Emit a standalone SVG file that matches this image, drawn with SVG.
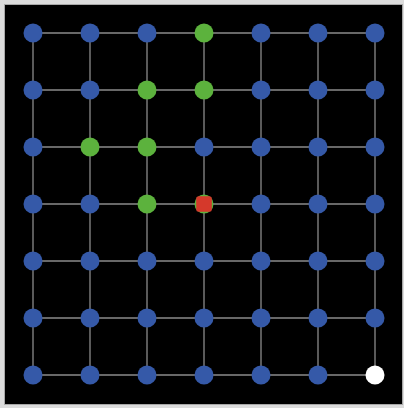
<svg xmlns="http://www.w3.org/2000/svg" width="404" height="408" viewBox="0 0 404 408">
<style>
.e{stroke:#8a8a8a;stroke-width:1.3;fill:none}
.b{fill:#3559a8}
.g{fill:#5cb23d}
.w{fill:#ffffff}
.r{fill:#d5392b}
</style>
<rect x="0" y="0" width="404" height="408" fill="#dcdcdc"/>
<rect x="4.5" y="4.5" width="398" height="400" fill="#000" stroke="#a8a8a8" stroke-width="1"/>
<g id="edges">
<path class="e" d="M33 33H375M33 90H375M33 147H375M33 204H375M33 261H375M33 318H375M33 375H375M33 33V375M90 33V375M147 33V375M204 33V375M261 33V375M318 33V375M375 33V375"/>
</g>
<g id="n0_0"><circle class="b" cx="33" cy="33" r="9.5"/></g>
<g id="n0_1"><circle class="b" cx="90" cy="33" r="9.5"/></g>
<g id="n0_2"><circle class="b" cx="147" cy="33" r="9.5"/></g>
<g id="n0_3"><circle class="g" cx="204" cy="33" r="9.5"/></g>
<g id="n0_4"><circle class="b" cx="261" cy="33" r="9.5"/></g>
<g id="n0_5"><circle class="b" cx="318" cy="33" r="9.5"/></g>
<g id="n0_6"><circle class="b" cx="375" cy="33" r="9.5"/></g>
<g id="n1_0"><circle class="b" cx="33" cy="90" r="9.5"/></g>
<g id="n1_1"><circle class="b" cx="90" cy="90" r="9.5"/></g>
<g id="n1_2"><circle class="g" cx="147" cy="90" r="9.5"/></g>
<g id="n1_3"><circle class="g" cx="204" cy="90" r="9.5"/></g>
<g id="n1_4"><circle class="b" cx="261" cy="90" r="9.5"/></g>
<g id="n1_5"><circle class="b" cx="318" cy="90" r="9.5"/></g>
<g id="n1_6"><circle class="b" cx="375" cy="90" r="9.5"/></g>
<g id="n2_0"><circle class="b" cx="33" cy="147" r="9.5"/></g>
<g id="n2_1"><circle class="g" cx="90" cy="147" r="9.5"/></g>
<g id="n2_2"><circle class="g" cx="147" cy="147" r="9.5"/></g>
<g id="n2_3"><circle class="b" cx="204" cy="147" r="9.5"/></g>
<g id="n2_4"><circle class="b" cx="261" cy="147" r="9.5"/></g>
<g id="n2_5"><circle class="b" cx="318" cy="147" r="9.5"/></g>
<g id="n2_6"><circle class="b" cx="375" cy="147" r="9.5"/></g>
<g id="n3_0"><circle class="b" cx="33" cy="204" r="9.5"/></g>
<g id="n3_1"><circle class="b" cx="90" cy="204" r="9.5"/></g>
<g id="n3_2"><circle class="g" cx="147" cy="204" r="9.5"/></g>
<g id="n3_3"><circle class="g" cx="204" cy="204" r="9.5"/><rect class="r" x="196.2" y="196.2" width="15.6" height="15.6" rx="2.5"/></g>
<g id="n3_4"><circle class="b" cx="261" cy="204" r="9.5"/></g>
<g id="n3_5"><circle class="b" cx="318" cy="204" r="9.5"/></g>
<g id="n3_6"><circle class="b" cx="375" cy="204" r="9.5"/></g>
<g id="n4_0"><circle class="b" cx="33" cy="261" r="9.5"/></g>
<g id="n4_1"><circle class="b" cx="90" cy="261" r="9.5"/></g>
<g id="n4_2"><circle class="b" cx="147" cy="261" r="9.5"/></g>
<g id="n4_3"><circle class="b" cx="204" cy="261" r="9.5"/></g>
<g id="n4_4"><circle class="b" cx="261" cy="261" r="9.5"/></g>
<g id="n4_5"><circle class="b" cx="318" cy="261" r="9.5"/></g>
<g id="n4_6"><circle class="b" cx="375" cy="261" r="9.5"/></g>
<g id="n5_0"><circle class="b" cx="33" cy="318" r="9.5"/></g>
<g id="n5_1"><circle class="b" cx="90" cy="318" r="9.5"/></g>
<g id="n5_2"><circle class="b" cx="147" cy="318" r="9.5"/></g>
<g id="n5_3"><circle class="b" cx="204" cy="318" r="9.5"/></g>
<g id="n5_4"><circle class="b" cx="261" cy="318" r="9.5"/></g>
<g id="n5_5"><circle class="b" cx="318" cy="318" r="9.5"/></g>
<g id="n5_6"><circle class="b" cx="375" cy="318" r="9.5"/></g>
<g id="n6_0"><circle class="b" cx="33" cy="375" r="9.5"/></g>
<g id="n6_1"><circle class="b" cx="90" cy="375" r="9.5"/></g>
<g id="n6_2"><circle class="b" cx="147" cy="375" r="9.5"/></g>
<g id="n6_3"><circle class="b" cx="204" cy="375" r="9.5"/></g>
<g id="n6_4"><circle class="b" cx="261" cy="375" r="9.5"/></g>
<g id="n6_5"><circle class="b" cx="318" cy="375" r="9.5"/></g>
<g id="n6_6"><circle class="w" cx="375" cy="375" r="9.5"/></g>
</svg>
